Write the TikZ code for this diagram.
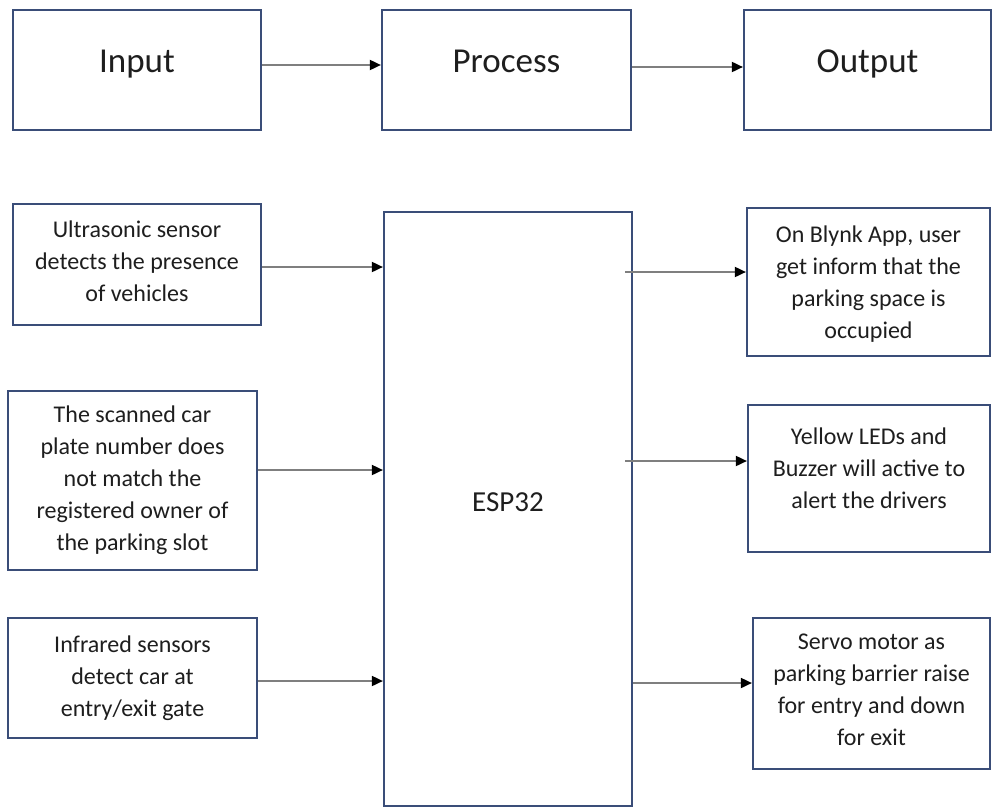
\documentclass[tikz,border=0pt]{standalone}
\usepackage{fontspec}
\setmainfont{Carlito}
\usetikzlibrary{arrows.meta}
\definecolor{bordercol}{HTML}{3A4D78}
\definecolor{txtcol}{HTML}{1E1E1E}
\definecolor{linecol}{HTML}{7F7F7F}
\tikzset{
  box/.style={draw=bordercol, line width=2.2pt, rectangle, inner sep=0pt, fill=white},
  lbl/.style={align=center, font=\fontsize{24}{32}\selectfont, text=txtcol, inner sep=0pt},
  big/.style={font=\fontsize{35}{42}\selectfont, text=txtcol, inner sep=0pt, anchor=base},
  arr/.style={draw=linecol, line width=1.8pt, -{Triangle[length=11pt,width=10pt,color=black]}}
}
\begin{document}
\begin{tikzpicture}[x=1pt,y=-1pt]
\useasboundingbox (0,0) rectangle (992,808);
% top row
\node[box, minimum width=248pt, minimum height=120pt] (inp) at (137,70) {};
\node[box, minimum width=249pt, minimum height=120pt] (proc) at (506.5,70) {};
\node[box, minimum width=247pt, minimum height=120pt] (outp) at (867.5,70) {};
\node[big] (inpT) at (137,72) {Input};
\node[big] (procT) at (506.5,72) {Process};
\node[big] (outpT) at (867.5,72) {Output};
\draw[arr] ([yshift=5pt]inp.east) -- ([yshift=5pt]proc.west);
\draw[arr] ([yshift=3pt]proc.east) -- ([yshift=3pt]outp.west);
% inputs
\node[box, minimum width=248pt, minimum height=121pt] (us) at (137,264.5) {};
\node[box, minimum width=249pt, minimum height=179pt] (sc) at (132.5,480.5) {};
\node[box, minimum width=249pt, minimum height=120pt] (ir) at (132.5,678) {};
\node[lbl] (usT) at (137,261) {Ultrasonic sensor\\detects the presence\\of vehicles};
\node[lbl] (scT) at (132.5,480) {The scanned car\\plate number does\\not match the\\registered owner of\\the parking slot};
\node[lbl] (irT) at (132.5,678) {Infrared sensors\\detect car at\\entry/exit gate};
% ESP32
\node[box, minimum width=248pt, minimum height=594pt] (esp) at (508,509) {};
\node[font=\fontsize{29}{35}\selectfont, text=txtcol, inner sep=0pt, anchor=base] (espT) at (508,511) {ESP32};
% outputs
\node[box, minimum width=243pt, minimum height=148pt] (blynk) at (868.5,282) {};
\node[box, minimum width=242pt, minimum height=147pt] (yel) at (869,478.5) {};
\node[box, minimum width=237pt, minimum height=151pt] (servo) at (871.5,693.5) {};
\node[lbl] (blynkT) at (868.5,284) {On Blynk App, user\\get inform that the\\parking space is\\occupied};
\node[lbl] (yelT) at (869,468) {Yellow LEDs and\\Buzzer will active to\\alert the drivers};
\node[lbl] (servoT) at (871.5,690) {Servo motor as\\parking barrier raise\\for entry and down\\for exit};
% input arrows
\coordinate (a1) at ([yshift=-2.5pt]us.east);
\coordinate (a2) at ([yshift=10.5pt]sc.east);
\coordinate (a3) at ([yshift=-3pt]ir.east);
\draw[arr] (a1) -- (a1 -| esp.west);
\draw[arr] (a2) -- (a2 -| esp.west);
\draw[arr] (a3) -- (a3 -| esp.west);
% output arrows
\coordinate (b1) at ([yshift=10pt]blynk.west);
\coordinate (b2) at ([yshift=17.5pt]yel.west);
\coordinate (b3) at ([yshift=10.5pt]servo.west);
\draw[arr, shorten <=-8pt] (b1 -| esp.east) -- (b1);
\draw[arr, shorten <=-8pt] (b2 -| esp.east) -- (b2);
\draw[arr] (b3 -| esp.east) -- (b3);
\end{tikzpicture}
\end{document}
